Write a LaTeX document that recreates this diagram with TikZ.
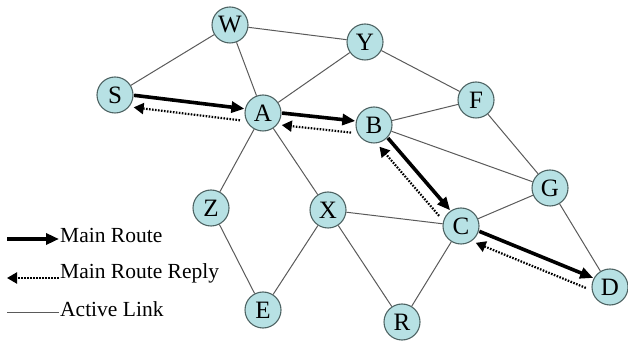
\documentclass[tikz,border=0pt]{standalone}
\usepackage{fontspec}
\setmainfont{Liberation Serif}
\usetikzlibrary
  {
    arrows.meta,              % arrow heads
    calc,                     % shifted end points of the routes
  }

\begin{document}
\begin{tikzpicture}
    [
      x=1pt, y=1pt,
      % Styles
      station/.style={circle, draw=nodeedge, fill=nodefill, line width=1.1pt,
        minimum size=36pt, inner sep=0pt, font=\fontsize{25}{25}\selectfont},
      link/.style={draw=linkcolor, line width=1pt},
      main route/.style={line width=3.6pt, -{Triangle[length=13pt,width=11pt]}},
      reply route/.style={line width=2.2pt, dash pattern=on 1.6pt off 1.4pt,
        -{Triangle[length=10pt,width=11pt]}},
      legend text/.style={anchor=west, inner sep=0pt, font=\fontsize{21.5}{22}\selectfont}
    ]

    % Colors
    \definecolor{nodefill}{HTML}{B7E1E4}
    \definecolor{nodeedge}{HTML}{4E6464}
    \definecolor{linkcolor}{HTML}{5A5A5A}

    \useasboundingbox (0,0) rectangle (628,342);

    % stations
    \node [station] (S) at (115,247) {S};
    \node [station] (W) at (230,317) {W};
    \node [station] (Y) at (365,300) {Y};
    \node [station] (A) at (263,229) {A};
    \node [station] (B) at (374,217) {B};
    \node [station] (F) at (476,242) {F};
    \node [station] (G) at (550,154) {G};
    \node [station] (Z) at (211,134) {Z};
    \node [station] (X) at (328,132) {X};
    \node [station] (C) at (461,116) {C};
    \node [station] (D) at (610,55) {D};
    \node [station] (E) at (263,32) {E};
    \node [station] (R) at (402,20) {R};

    % active links
    \foreach \from/\to in {S/W, W/A, W/Y, A/Y, Y/F, B/F, B/G, F/G, G/C, G/D,
                           A/Z, A/X, Z/E, X/E, X/R, X/C, C/R}
    {
      \draw [link] (\from) -- (\to);
    }

    % main route and its reply
    \foreach \from/\to in {S/A, A/B, B/C, C/D}
    {
      \draw [main route] ($(\from)!19pt!(\to)!2pt!90:(\to)$) -- ($(\to)!19pt!(\from)!2pt!-90:(\from)$);
      \draw [reply route] ($(\to)!22pt!(\from)!10pt!90:(\from)$) -- ($(\from)!20pt!(\to)!10pt!-90:(\to)$);
    }

    % legend
    \coordinate (l1a) at (7,103);  \coordinate (l1b) at (59,103);
    \coordinate (l2a) at (7,64);   \coordinate (l2b) at (59,64);
    \coordinate (l3a) at (7,29);   \coordinate (l3b) at (59,29);
    \draw [main route] (l1a) -- (l1b);
    \draw [reply route] (l2b) -- (l2a);
    \draw [link] (l3a) -- (l3b);
    \node [legend text] (t1) at (60,107) {Main Route};
    \node [legend text] (t2) at (60,69) {Main Route Reply};
    \node [legend text] (t3) at (60,33) {Active Link};
\end{tikzpicture}
\end{document}
